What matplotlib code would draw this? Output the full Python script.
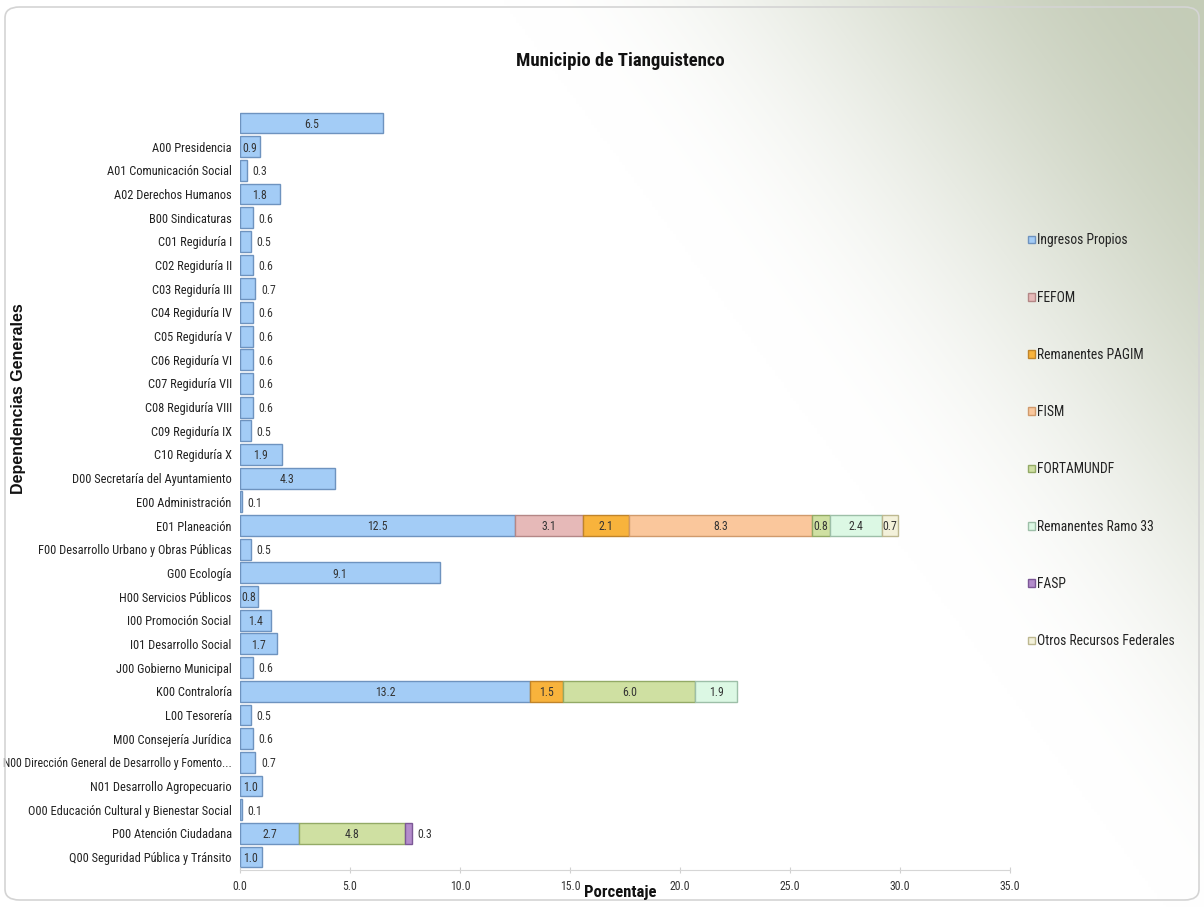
import numpy as np
import matplotlib
matplotlib.use("Agg")
import matplotlib.pyplot as plt
from matplotlib import font_manager
from matplotlib.patches import FancyBboxPatch

# ---- data -------------------------------------------------------------
categories = [
    "", "A00 Presidencia", "A01 Comunicación Social", "A02 Derechos Humanos",
    "B00 Sindicaturas", "C01 Regiduría I", "C02 Regiduría II", "C03 Regiduría III",
    "C04 Regiduría IV", "C05 Regiduría V", "C06 Regiduría VI", "C07 Regiduría VII",
    "C08 Regiduría VIII", "C09 Regiduría IX", "C10 Regiduría X",
    "D00 Secretaría del Ayuntamiento", "E00 Administración", "E01 Planeación",
    "F00 Desarrollo Urbano y Obras Públicas", "G00 Ecología", "H00 Servicios Públicos",
    "I00 Promoción Social", "I01 Desarrollo Social", "J00 Gobierno Municipal",
    "K00 Contraloría", "L00 Tesorería", "M00 Consejería Jurídica",
    "N00 Dirección General de Desarrollo y Fomento...", "N01 Desarrollo Agropecuario",
    "O00 Educación Cultural y Bienestar Social", "P00 Atención Ciudadana",
    "Q00 Seguridad Pública y Tránsito",
]

ingresos_propios = [6.5, 0.9, 0.3, 1.8, 0.6, 0.5, 0.6, 0.7, 0.6, 0.6, 0.6, 0.6, 0.6,
                    0.5, 1.9, 4.3, 0.1, 12.5, 0.5, 9.1, 0.8, 1.4, 1.7, 0.6, 13.2,
                    0.5, 0.6, 0.7, 1.0, 0.1, 2.7, 1.0]
n = len(categories)
fefom = [0.0] * n
fefom[17] = 3.1
remanentes_pagim = [0.0] * n
remanentes_pagim[17] = 2.1
remanentes_pagim[24] = 1.5
fism = [0.0] * n
fism[17] = 8.3
fortamundf = [0.0] * n
fortamundf[17] = 0.8
fortamundf[24] = 6.0
fortamundf[30] = 4.8
remanentes_ramo33 = [0.0] * n
remanentes_ramo33[17] = 2.4
remanentes_ramo33[24] = 1.9
fasp = [0.0] * n
fasp[30] = 0.3
otros_federales = [0.0] * n
otros_federales[17] = 0.7

series_names = ["Ingresos Propios", "FEFOM", "Remanentes PAGIM", "FISM",
                "FORTAMUNDF", "Remanentes Ramo 33", "FASP", "Otros Recursos Federales"]
series_values = [ingresos_propios, fefom, remanentes_pagim, fism,
                 fortamundf, remanentes_ramo33, fasp, otros_federales]
x_ticks = [0, 5, 10, 15, 20, 25, 30, 35]

# ---- styling ----------------------------------------------------------
face_colors = ["#A3CCF6", "#E6B9B8", "#F8B33C", "#FAC79C",
               "#CFE0A2", "#DCF8E4", "#B38CCB", "#F3F1DA"]
edge_colors = ["#6E93BF", "#B48786", "#C0842A", "#D09A6C",
               "#93AA66", "#9DBFA8", "#7C5896", "#BDB890"]


def pick_family(candidates):
    names = {f.name for f in font_manager.fontManager.ttflist}
    for c in candidates:
        if c in names:
            return c
    return "DejaVu Sans"


narrow = pick_family(["Liberation Sans Narrow", "Arial Narrow", "Roboto Condensed",
                      "Open Sans Condensed", "Liberation Sans"])
regular = pick_family(["Liberation Sans", "Arial"])

W, H, DPI = 1204, 907, 100
fig = plt.figure(figsize=(W / DPI, H / DPI), dpi=DPI)

# background: soft diagonal wash toward the upper-right corner
bg = fig.add_axes([0, 0, 1, 1], zorder=-10)
bg.set_axis_off()
xx, yy = np.meshgrid(np.linspace(0, 1, 400), np.linspace(1, 0, 300))
s = (xx - 0.42) + 0.55 * (yy - 1.0)
t = np.clip(s / 0.58, 0, 1)
t = t * t * (3 - 2 * t)
t = t ** 1.1
c0 = np.array([1.0, 1.0, 1.0])
c1 = np.array([0.77, 0.80, 0.72])
img = c0[None, None, :] * (1 - t[..., None]) + c1[None, None, :] * t[..., None]
bg.imshow(img, extent=[0, 1, 0, 1], aspect="auto", interpolation="bilinear")
bg.set_xlim(0, 1)
bg.set_ylim(0, 1)
frame = FancyBboxPatch((5 / W, 7 / H), 1194 / W, 893 / H,
                       boxstyle="round,pad=0,rounding_size=0.012",
                       transform=fig.transFigure, fill=False,
                       edgecolor="#d4d4d4", linewidth=1.2)
fig.patches.append(frame)

ax = fig.add_axes([240 / W, 1 - 870 / H, 770 / W, 760 / H])
ax.set_facecolor("none")

y = np.arange(n)
left = np.zeros(n)
handles = []
for name, vals, fc, ec in zip(series_names, series_values, face_colors, edge_colors):
    vals = np.asarray(vals, dtype=float)
    nz = vals > 0
    bars = ax.barh(y[nz], vals[nz], left=left[nz], height=0.88, color=fc,
                   edgecolor=ec, linewidth=1.0, label=name)
    handles.append(bars)
    for i in np.flatnonzero(nz):
        v = vals[i]
        single = np.count_nonzero([sv[i] for sv in series_values]) == 1
        outside = v < 0.6 or (single and v < 0.8)
        if outside:
            ax.annotate(f"{v:.1f}", (left[i] + v, i), xytext=(4, -1),
                        textcoords="offset points", ha="left", va="center",
                        fontsize=8.5, family=narrow, color="#333333")
        else:
            ax.annotate(f"{v:.1f}", (left[i] + v / 2, i), xytext=(0, -1),
                        textcoords="offset points", ha="center", va="center",
                        fontsize=8.5, family=narrow, color="#333333")
    left = left + vals

ax.set_ylim(n - 0.45, -0.55)
ax.set_xlim(0, 35)
ax.set_yticks(y)
ax.set_yticklabels(categories, fontsize=8.9, family=narrow, color="#222222")
ax.tick_params(axis="y", length=0, pad=6)
ax.set_xticks(x_ticks)
ax.set_xticklabels([f"{v:.1f}" for v in x_ticks], fontsize=8.5, family=narrow,
                   color="#333333")
ax.tick_params(axis="x", direction="inout", length=5, color="#d0d0d0", pad=5)
for side in ("top", "right", "left"):
    ax.spines[side].set_visible(False)
ax.spines["bottom"].set_color("#d6d6d6")

# shrink any category label that would run past the left edge
fig.canvas.draw()
renderer = fig.canvas.get_renderer()
for lab in ax.get_yticklabels():
    bb = lab.get_window_extent(renderer)
    if bb.x0 < 3:
        avail = bb.x1 - 3
        lab.set_fontsize(lab.get_fontsize() * avail / bb.width)

fig.text(620 / W, 1 - 61 / H, "Municipio de Tianguistenco", ha="center", va="center",
         fontsize=13.5, fontweight="bold", family=narrow, color="#111111")
fig.text(620 / W, 1 - 893 / H, "Porcentaje", ha="center", va="center",
         fontsize=12, fontweight="bold", family=narrow, color="#111111")
fig.text(19 / W, 1 - 399 / H, "Dependencias Generales", ha="center", va="center",
         rotation=90, fontsize=11.5, fontweight="bold", family=regular, color="#111111")

leg = fig.legend(handles=handles, loc="upper left",
                 bbox_to_anchor=(1016 / W, 1 - 221 / H), frameon=False,
                 prop={"family": narrow, "size": 9.8}, handlelength=0.5,
                 handleheight=0.5, handletextpad=0.15, labelspacing=3.18)
for txt in leg.get_texts():
    txt.set_color("#222222")

fig.savefig("out.png", dpi=DPI)
